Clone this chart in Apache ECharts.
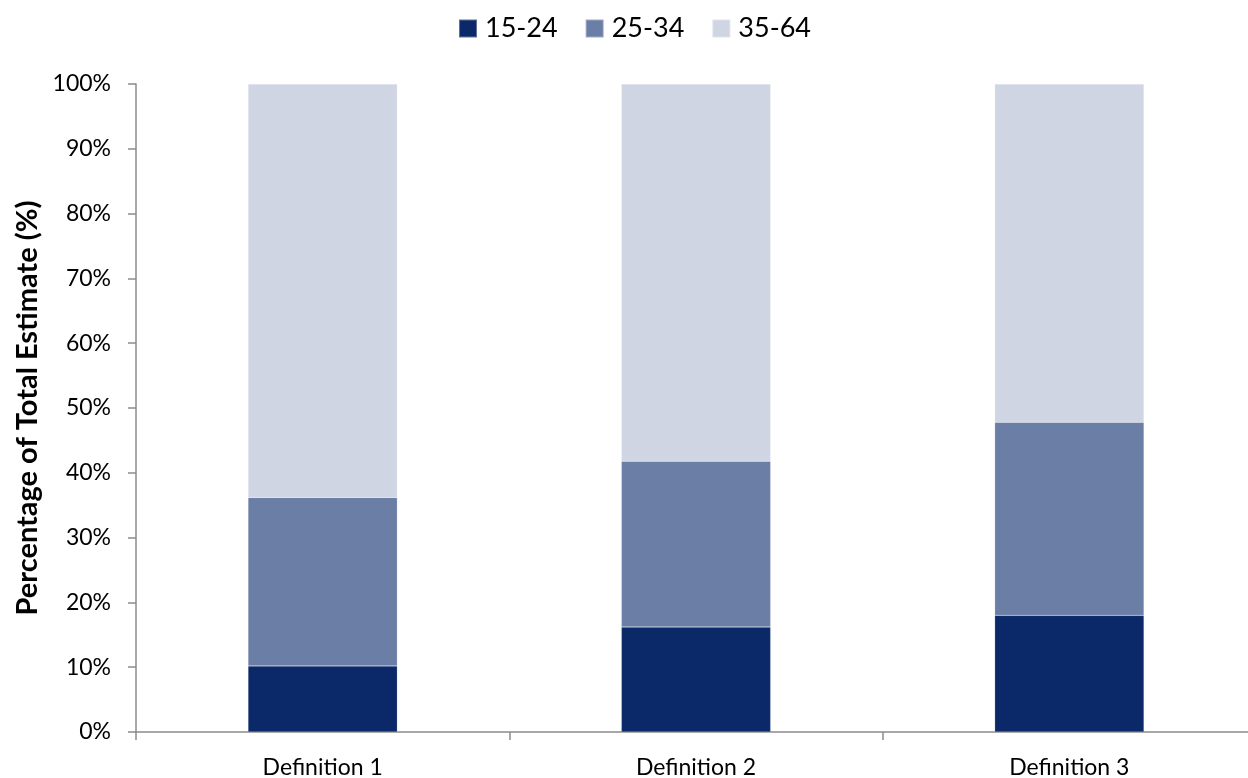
<!DOCTYPE html>
<html><head><meta charset="utf-8">
<script src="https://cdn.jsdelivr.net/npm/echarts@6/dist/echarts.min.js"></script>
<style>html,body{margin:0;padding:0;background:#fff}#c{width:1248px;height:778px}</style>
</head><body><div id="c"></div>
<script>
const categories = ['Definition 1', 'Definition 2', 'Definition 3'];
const s1524 = [10.2, 16.2, 18.0];
const s2534 = [26.0, 25.6, 29.8];
const s3564 = [63.8, 58.2, 52.2];
const seriesNames = ['15-24', '25-34', '35-64'];
const colors = ['#0B2868', '#6B7EA6', '#CFD5E3'];
const font = 'Lato, "Open Sans", sans-serif';
const chart = echarts.init(document.getElementById('c'));
const mk = (name, data, color) => ({
  name, type: 'bar', stack: 'a', data, barWidth: '40%',
  itemStyle: { color, borderColor: 'rgba(255,255,255,0.35)', borderWidth: 0.5 },
  emphasis: { disabled: true }
});
chart.setOption({
  animation: false,
  textStyle: { fontFamily: font },
  legend: {
    top: 10, left: 453, itemWidth: 18, itemHeight: 18, itemGap: 27,
    icon: 'rect',
    textStyle: { fontSize: 27, color: '#000', fontFamily: font, padding: [0, 0, 0, 3] },
    data: seriesNames
  },
  grid: { left: 136, width: 1120, top: 84, height: 648, containLabel: false, outerBoundsMode: 'none' },
  xAxis: {
    type: 'category', data: categories,
    axisLine: { lineStyle: { color: '#8c8c8c', width: 1.5 } },
    axisTick: { show: true, length: 8, lineStyle: { color: '#8c8c8c', width: 1.5 } },
    axisLabel: { fontSize: 23, color: '#000', margin: 24, fontFamily: font }
  },
  yAxis: {
    type: 'value', min: 0, max: 100, interval: 10,
    name: 'Percentage of Total Estimate (%)',
    nameLocation: 'middle', nameGap: 92, nameRotate: 90,
    nameTextStyle: { fontSize: 29, fontWeight: 'bold', color: '#000', fontFamily: font },
    splitLine: { show: false },
    axisLine: { show: true, lineStyle: { color: '#8c8c8c', width: 1.5 } },
    axisTick: { show: true, length: 8, lineStyle: { color: '#8c8c8c', width: 1.5 } },
    axisLabel: { fontSize: 23, color: '#000', margin: 25, formatter: '{value}%', fontFamily: font }
  },
  series: [
    mk(seriesNames[0], s1524, colors[0]),
    mk(seriesNames[1], s2534, colors[1]),
    mk(seriesNames[2], s3564, colors[2])
  ]
});
</script></body></html>
